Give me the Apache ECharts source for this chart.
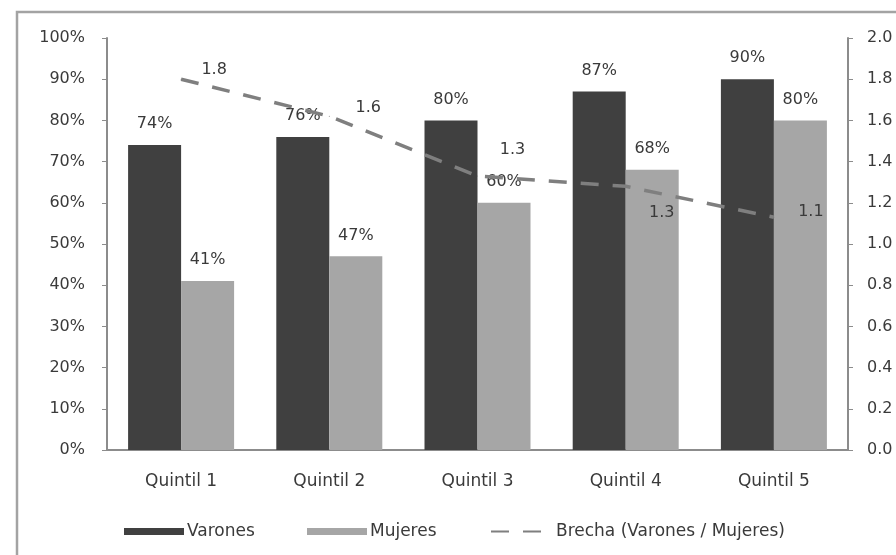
<!DOCTYPE html>
<html>
<head>
<meta charset="utf-8">
<script src="https://cdn.jsdelivr.net/npm/echarts@6/dist/echarts.min.js"></script>
<style>
  html, body { margin: 0; padding: 0; background: #ffffff; }
  #chart { width: 896px; height: 555px; }
</style>
</head>
<body>
<div id="chart"></div>
<script>
// Quintiles de ingreso
const categories = ['Quintil 1', 'Quintil 2', 'Quintil 3', 'Quintil 4', 'Quintil 5'];
// Porcentajes por sexo
const varones = [74, 76, 80, 87, 90];
const mujeres = [41, 47, 60, 68, 80];
// Brecha = varones / mujeres
const brecha = [1.80, 1.62, 1.33, 1.28, 1.13];
// Ticks of both value axes
const leftTicks = { min: 0, max: 100, interval: 10 };
const rightTicks = { min: 0, max: 2, interval: 0.2 };

// Where each ratio label sits relative to its point
const brechaLabelOffsets = [[33, -9], [39, -8], [35, -26], [36, 27], [37, -5]];

const FONT = 'DejaVu Sans';
const TEXT = '#3a3a3a';
const AXIS = '#8c8c8c';
const LINE = '#7f7f7f';

const chart = echarts.init(document.getElementById('chart'), null, { renderer: 'canvas' });

// One legend block per entry so each can sit at its own x position
function legendAt(left, name, extra) {
  return Object.assign({
    left: left,
    top: 523,
    padding: 0,
    itemWidth: 60,
    itemHeight: 7,
    textStyle: { fontFamily: FONT, fontSize: 17, color: TEXT, padding: [0, 0, 0, -2] },
    data: [name]
  }, extra || {});
}

chart.setOption({
  animation: false,
  backgroundColor: '#ffffff',
  textStyle: { fontFamily: FONT, color: TEXT },
  graphic: [{
    type: 'rect',
    shape: { x: 17, y: 12, width: 900, height: 570 },
    style: { fill: 'none', stroke: '#a3a3a3', lineWidth: 2.5 },
    silent: true,
    z: -10
  }],
  grid: { left: 107, right: 48, top: 38, bottom: 105, containLabel: false },
  legend: [
    legendAt(124, 'Varones', { icon: 'rect' }),
    legendAt(307, 'Mujeres', { icon: 'rect' }),
    legendAt(490, 'Brecha (Varones / Mujeres)', {
      textStyle: { fontFamily: FONT, fontSize: 17, color: TEXT },
      data: [{ name: 'Brecha (Varones / Mujeres)', itemStyle: { opacity: 0 } }]
    })
  ],
  xAxis: {
    type: 'category',
    data: categories,
    axisLine: { lineStyle: { color: AXIS, width: 2 } },
    axisTick: { show: false },
    axisLabel: { fontFamily: FONT, fontSize: 17, color: TEXT, margin: 23 }
  },
  yAxis: [{
    type: 'value',
    min: leftTicks.min, max: leftTicks.max, interval: leftTicks.interval,
    splitLine: { show: false },
    axisLine: { show: true, lineStyle: { color: AXIS, width: 2 } },
    axisTick: { show: true, length: 5, lineStyle: { color: AXIS } },
    axisLabel: { fontFamily: FONT, fontSize: 16, color: TEXT, margin: 22, formatter: '{value}%' }
  }, {
    type: 'value',
    position: 'right',
    min: rightTicks.min, max: rightTicks.max, interval: rightTicks.interval,
    splitLine: { show: false },
    axisLine: { show: true, lineStyle: { color: AXIS, width: 2 } },
    axisTick: { show: true, length: 5, lineStyle: { color: AXIS } },
    axisLabel: { fontFamily: FONT, fontSize: 16, color: TEXT, margin: 19,
      formatter: v => v.toFixed(1) }
  }],
  series: [{
    name: 'Varones',
    type: 'bar',
    data: varones,
    barWidth: 53,
    barGap: '0%',
    itemStyle: { color: '#404040' },
    label: { show: true, position: 'top', distance: 13, fontFamily: FONT, fontSize: 16, color: TEXT,
      formatter: p => p.value + '%' }
  }, {
    name: 'Mujeres',
    type: 'bar',
    data: mujeres,
    barWidth: 53,
    barGap: '0%',
    itemStyle: { color: '#a6a6a6' },
    label: { show: true, position: 'top', distance: 13, fontFamily: FONT, fontSize: 16, color: TEXT,
      formatter: p => p.value + '%' }
  }, {
    name: 'Brecha (Varones / Mujeres)',
    type: 'line',
    yAxisIndex: 1,
    z: 5,
    symbol: 'circle',
    symbolSize: 1,
    showSymbol: true,
    itemStyle: { color: LINE },
    lineStyle: { color: LINE, width: 3.5, type: [18, 14] },
    data: brecha.map((v, i) => ({
      value: v,
      label: { offset: brechaLabelOffsets[i] }
    })),
    label: { show: true, position: 'inside', fontFamily: FONT, fontSize: 16, color: TEXT,
      formatter: p => p.value.toFixed(1) }
  }]
});
</script>
</body>
</html>
